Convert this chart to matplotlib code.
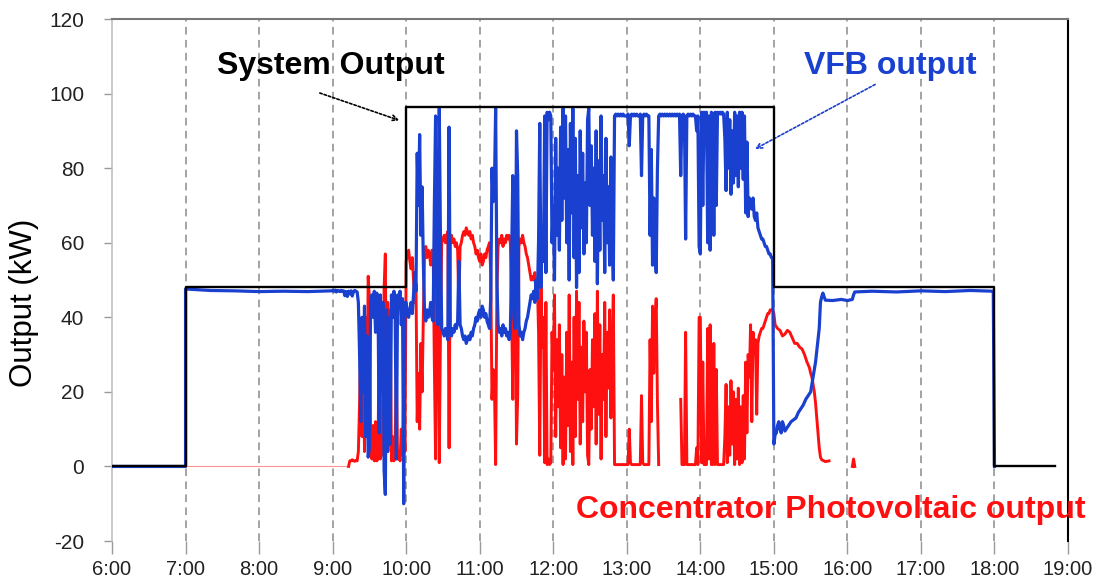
import numpy as np
import matplotlib.pyplot as plt

plt.rcParams["font.family"] = ["Liberation Sans", "DejaVu Sans"]
plt.rcParams["axes.unicode_minus"] = False

nan = float("nan")


def hours(hhmm):
    h, m = hhmm.split(":")
    return int(h) + int(m) / 60


# system output setpoint (kW)
system_time = ["6:00", "7:00", "7:00", "10:00", "10:00", "15:00", "15:00", "18:00", "18:00", "18:49"]
system_kw = [0, 0, 48, 48, 96.5, 96.5, 48, 48, 0, 0]

# VFB / CPV before the one-minute log
vfb_am_time = ["6:00", "7:00", "7:00", "7:20", "7:40", "8:00", "8:20", "8:40", "8:59"]
vfb_am_kw = [0, 0, 47.6, 47.2, 47.1, 46.9, 47.0, 46.9, 47.1]
cpv_am_time = ["7:00", "8:59"]
cpv_am_kw = [0, 0]

# one-minute log from 9:00 to 14:59, one row per half hour
log_start = "9:00"
vfb_log = [
    [47.2, 47.0, 47.3, 46.8, 47.2, 47.1, 46.9, 47.2, 47.0, 47.1, 45.8, 46.9, 45.6, 47.0, 46.3, 47.1,
     45.7, 46.9, 47.2, 47.0, 46.8, 44, 30, 12, 40, 20, 43, 8, 35, 2.5],
    [5, 44, 46, 40, 47, 36, 46.5, 45, 9, 46, 20, 44, -1, -7.5, 42, 4, 40, 6, 46, 40,
     47, 42, 2, 46, 44, 47, 38, 45, -10, 44],
    [44, 41, 40, 42, 44, 41, 46, 52, 47, 84, 70, 89, 62, 75, 55, 41, 39, 42, 40, 41,
     44, 40, 39, 70, 94, 45, 38, 96, 60, 37],
    [36, 35, 37, 36, 34, 91, 36, 35, 37, 36, 38, 37, 39, 55, 38, 37, 35, 34, 35, 33,
     34, 35, 34, 36, 35, 37, 38, 40, 39, 41],
    [42, 40, 43, 42, 40, 41, 39, 38, 37, 45, 80, 71, 75, 96, 50, 38, 36, 37, 35, 38,
     36, 37, 35, 36, 34, 36, 55, 78, 40, 37],
    [90, 78, 38, 35, 36, 34, 36, 37, 39, 40, 42, 44, 46, 45, 47, 44, 50, 45, 60, 92,
     48, 64, 55, 94, 52, 95, 93, 95, 94, 60],
    [70, 50, 88, 62, 80, 58, 91, 66, 96, 72, 94, 60, 85, 50, 92, 68, 96, 56, 88, 48,
     78, 52, 90, 64, 84, 57, 76, 60, 93, 96],
    [70, 86, 62, 80, 55, 90, 49, 82, 58, 94, 66, 78, 52, 88, 60, 75, 54, 83, 65, 50,
     94, 94.5, 94, 94.5, 94, 94.5, 94, 94.5, 94, 94],
    [94, 94.5, 86, 94, 94.5, 94, 94.5, 94, 94.5, 94, 94, 94.5, 78, 94, 94.5, 94, 94.5, 94, 94, 62,
     85, 54, 72, 58, 52, 80, 94, 94.5, 94, 94.5],
    [94, 94.5, 94, 94.5, 94, 94.5, 94, 94.5, 94, 94.5, 94, 94.5, 94, 94.5, 78, 94, 94.5, 94, 61, 94,
     94.5, 94, 94.5, 94, 94.5, 94, 94, 90, 94, 59],
    [57, 95, 70, 95, 94.5, 95, 60, 94, 58, 95, 94.5, 62, 95, 70, 95, 94.5, 95, 94.5, 95, 94.5,
     88, 74, 95, 80, 93, 73, 90, 76, 95, 78],
    [94, 75, 95, 80, 95, 77, 94, 68, 87, 67, 72, 71, 69, 72, 67, 66, 68, 64, 63, 62,
     61, 61, 60, 59, 59, 58, 57, 57, 56, 56],
]
cpv_log = [
    [0, 0, 0, 0, 0, 0, 0, 0, 0, 0, 0, 0, 0, 0, 1.5, 1.5, 1.8, 1.5, 1.4, 1.6,
     1.5, 4, 17, 36, 8, 28, 4, 40, 12, 51],
    [45, 6, 2, 11, 1.5, 12, 1.5, 2, 40, 2, 28, 3, 48, 57, 6, 44, 8, 42, 1.5, 8,
     1.5, 6, 25, 2, 4, 1.5, 10, 3, 20, 4],
    [55, 57, 58, 55, 53, 56, 50, 44, 49, 12, 25, 10, 33, 20, 40, 57, 59, 56, 58, 57,
     54, 58, 58, 27, 2, 52, 58, 1, 37, 60],
    [61, 62, 60, 62, 63, 5, 62, 62, 60, 61, 59, 60, 58, 43, 59, 60, 62, 63, 62, 64,
     63, 62, 63, 61, 62, 60, 59, 57, 58, 56],
    [55, 57, 54, 55, 57, 56, 58, 59, 60, 52, 18, 26, 22, 0.5, 47, 59, 61, 60, 62, 59,
     61, 60, 62, 61, 62, 60, 42, 18, 57, 60],
    [6, 19, 59, 61, 60, 62, 60, 59, 57, 56, 54, 52, 50, 51, 50, 52, 46, 50, 36, 3,
     48, 32, 40, 1, 44, 0.5, 2, 0.5, 1, 36],
    [26, 46, 8, 34, 16, 38, 5, 30, 0.5, 24, 2, 36, 11, 46, 4, 28, 0.5, 40, 8, 47,
     18, 44, 6, 32, 12, 39, 20, 36, 3, 0.5],
    [26, 10, 34, 16, 41, 6, 47, 14, 38, 2, 30, 18, 44, 8, 36, 21, 42, 13, 31, 46,
     0.5, 0.5, 0.5, 0.5, 0.5, 0.5, 0.5, 0.5, 0.5, 0.5],
    [0.5, 0.5, 10, 1, 0.5, 0.5, 0.5, 0.5, 0.5, 0.5, 0.5, 0.5, 19, 1, 0.5, 0.5, 0.5, 0.5, 0.5, 34,
     12, 43, 25, 39, 45, 17, 0.5, nan, nan, nan],
    [nan, nan, nan, nan, nan, nan, nan, nan, nan, nan, nan, nan, nan, nan, 18, 0.5, 0.5, 0.5, 36, 0.5,
     0.5, 0.5, 0.5, 0.5, 0.5, 0.5, 0.5, 5, 0.5, 40],
    [40, 1, 28, 0.5, 0.5, 0.5, 37, 2, 38, 0.5, 0.5, 33, 0.5, 26, 0.5, 0.5, 0.5, 0.5, 0.5, 0.5,
     8, 22, 1, 16, 3, 23, 6, 20, 0.5, 18],
    [2, 21, 0.5, 16, 1, 19, 2, 28, 9, 30, 24, 38, 12, 36, 30, 34, 14, 33, 35, 36,
     37, 37, 38, 39, 40, 41, 41, 42, 42, 42],
]

# afternoon, after the setpoint drops back to 48 kW
vfb_pm_time = ["15:00", "15:01", "15:02", "15:03", "15:04", "15:05", "15:06", "15:07", "15:08", "15:09",
               "15:10", "15:12", "15:14", "15:16", "15:18", "15:20", "15:22", "15:24", "15:26", "15:28",
               "15:30", "15:31", "15:32", "15:33", "15:34", "15:35", "15:36", "15:37", "15:38", "15:39",
               "15:40", "15:41", "15:42", "15:48", "15:55", "16:00", "16:04", "16:05", "16:06", "16:20",
               "16:40", "17:00", "17:20", "17:40", "17:59", "18:00"]
vfb_pm_kw = [6, 8.5, 9, 11, 12, 10, 9, 12, 11, 9.5,
             10, 11, 12, 12.5, 13, 14.5, 15.5, 16.5, 18, 19,
             20, 22, 24, 26, 28, 31, 34, 37, 44, 45.5,
             46.5, 45.5, 44.6, 44.5, 44.8, 44.5, 44.8, 46, 46.8, 47,
             46.8, 47.1, 46.9, 47.2, 47, 0]
cpv_pm_time = ["15:00", "15:01", "15:03", "15:05", "15:07", "15:09", "15:11", "15:13", "15:15", "15:17",
               "15:19", "15:21", "15:23", "15:25", "15:27", "15:29", "15:30", "15:31", "15:32", "15:33",
               "15:34", "15:35", "15:36", "15:37", "15:38", "15:39", "15:42", "15:45", "15:46", "16:04",
               "16:05", "16:06"]
cpv_pm_kw = [41, 38, 37, 36.5, 35, 35.5, 36.5, 36, 34.5, 33,
             33, 32, 31.5, 30, 28, 26.5, 25, 24, 22, 20,
             17, 13, 9, 5, 2.5, 1.8, 1.3, 1.5, nan, 0,
             2, 0]

# assemble the series
vfb_flat = [v for row in vfb_log for v in row]
cpv_flat = [v for row in cpv_log for v in row]
log_t = hours(log_start) + np.arange(len(vfb_flat)) / 60

vfb_t = np.concatenate([[hours(s) for s in vfb_am_time], log_t, [hours(s) for s in vfb_pm_time]])
vfb_kw = np.concatenate([vfb_am_kw, vfb_flat, vfb_pm_kw])
cpv_t = np.concatenate([[hours(s) for s in cpv_am_time], log_t, [hours(s) for s in cpv_pm_time]])
cpv_kw = np.concatenate([cpv_am_kw, cpv_flat, cpv_pm_kw])
sys_t = [hours(s) for s in system_time]

RED = "#ff1010"
BLUE = "#1a40d0"

fig = plt.figure(figsize=(10.97, 5.82), dpi=100)
ax = fig.add_axes([0.1021, 0.0704, 0.8715, 0.8969])

# CPV idles at zero until the sun comes up
idle = cpv_t < hours("9:14")
active = cpv_t >= hours("9:13")
ax.plot(cpv_t[idle], cpv_kw[idle], color=RED, lw=0.8, alpha=0.45, zorder=2)
ax.plot(cpv_t[active], cpv_kw[active], color=RED, lw=2.1, zorder=2)
ax.plot(vfb_t, vfb_kw, color=BLUE, lw=2.3, zorder=3)
ax.plot(sys_t, system_kw, color="black", lw=1.7, zorder=4)

ax.set_xlim(6, 19)
ax.set_ylim(-20, 120)
ax.set_xticks(range(6, 20))
ax.set_xticklabels([f"{h}:00" for h in range(6, 20)])
ax.set_yticks(range(-20, 121, 20))

ax.grid(axis="x", color="#8a8a8a", lw=1.1, linestyle=(0, (5, 3.5)))
gl = ax.get_xgridlines()
gl[0].set_visible(False)
gl[-1].set_visible(False)

ax.spines["bottom"].set_visible(False)
ax.spines["top"].set_color("#777777")
ax.spines["top"].set_linewidth(1.5)
ax.spines["left"].set_color("#c0c0c0")
ax.spines["left"].set_linewidth(1.2)
ax.spines["right"].set_color("black")
ax.spines["right"].set_linewidth(1.5)

ax.tick_params(axis="y", direction="out", length=6, width=1, color="#999999",
               pad=14, labelsize=15, labelcolor="#222222")
ax.tick_params(axis="x", direction="out", length=9, width=1, color="#999999",
               pad=5, labelsize=14.5, labelcolor="#222222")

ax.set_ylabel("Output (kW)", fontsize=22.5)
ax.yaxis.set_label_coords(-0.076, 0.456)

# callouts
ax.text(8.97, 107.5, "System Output", fontsize=23, fontweight="bold", color="black",
        ha="center", va="center")
ax.annotate("", xy=(9.94, 92.6), xytext=(8.79, 100.4),
            arrowprops=dict(arrowstyle="->", color="black", lw=1.2, linestyle=(0, (1.5, 1.2))))
ax.text(16.58, 107.5, "VFB output", fontsize=23, fontweight="bold", color=BLUE,
        ha="center", va="center")
ax.annotate("", xy=(14.71, 84.8), xytext=(16.41, 102.8),
            arrowprops=dict(arrowstyle="->", color=BLUE, lw=1.2, linestyle=(0, (1.5, 1.2))))
ax.text(15.77, -11.8, "Concentrator Photovoltaic output", fontsize=23, fontweight="bold",
        color=RED, ha="center", va="center", zorder=5)

fig.savefig("out.png", dpi=100)
